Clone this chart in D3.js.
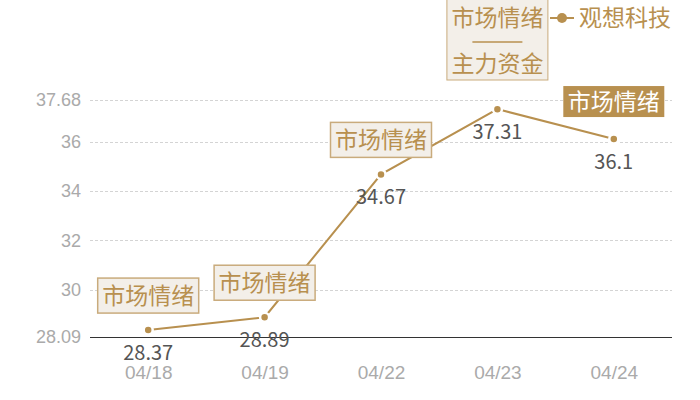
<!DOCTYPE html>
<html>
<head>
<meta charset="utf-8">
<script src="https://cdn.jsdelivr.net/npm/d3@7"></script>
<style>
  body { margin: 0; background: #fff; }
  svg { display: block; font-family: "Noto Sans CJK SC", "Noto Sans", sans-serif; }
</style>
</head>
<body>
<svg id="chart" width="700" height="400"></svg>
<script>
// data
const dates = ['04/18', '04/19', '04/22', '04/23', '04/24'];
const prices = [28.37, 28.89, 34.67, 37.31, 36.1];
const yTicks = [28.09, 30, 32, 34, 36, 37.68];
const notes = ['市场情绪', '市场情绪', '市场情绪', ['市场情绪', '主力资金'], '市场情绪'];
const seriesName = '观想科技';

const gold = '#b8904f';
const margin = { top: 100, right: 28, bottom: 63, left: 90 };
const width = 700, height = 400;

const svg = d3.select('#chart');

const x = d3.scalePoint()
    .domain(dates)
    .range([margin.left, width - margin.right])
    .padding(0.5);

const y = d3.scaleLinear()
    .domain([yTicks[0], yTicks[yTicks.length - 1]])
    .range([height - margin.bottom, margin.top]);

// grid lines
svg.append('g')
    .selectAll('line')
    .data(yTicks.slice(1))
    .join('line')
    .attr('x1', margin.left)
    .attr('x2', width - margin.right)
    .attr('y1', d => Math.round(y(d)) + 0.5)
    .attr('y2', d => Math.round(y(d)) + 0.5)
    .attr('stroke', '#d4d4d4')
    .attr('stroke-dasharray', '3,2');

// y axis labels
const yAxis = d3.axisLeft(y)
    .tickValues(yTicks)
    .tickSize(0)
    .tickPadding(9)
    .tickFormat(d => d);

svg.append('g')
    .attr('transform', `translate(${margin.left},0)`)
    .call(yAxis)
    .call(g => g.select('.domain').remove())
    .call(g => g.selectAll('text')
        .attr('fill', '#aaa')
        .attr('font-size', 18));

// x axis
const xAxis = d3.axisBottom(x).tickSize(0).tickPadding(28);
svg.append('g')
    .attr('transform', `translate(0,${Math.round(height - margin.bottom) + 0.5})`)
    .call(xAxis)
    .call(g => g.select('.domain')
        .attr('d', `M${margin.left},0H${width - margin.right}`)
        .attr('stroke', '#333'))
    .call(g => g.selectAll('text')
        .attr('fill', '#aaa')
        .attr('font-size', 19));

// the line
const line = d3.line()
    .x((d, i) => x(dates[i]))
    .y(d => y(d));

svg.append('path')
    .datum(prices)
    .attr('d', line)
    .attr('fill', 'none')
    .attr('stroke', gold)
    .attr('stroke-width', 2);

svg.append('g')
    .selectAll('circle')
    .data(prices)
    .join('circle')
    .attr('cx', (d, i) => x(dates[i]))
    .attr('cy', d => y(d))
    .attr('r', 4.5)
    .attr('fill', gold)
    .attr('stroke', '#fff')
    .attr('stroke-width', 2.5);

// value labels under the points
svg.append('g')
    .selectAll('text')
    .data(prices)
    .join('text')
    .attr('x', (d, i) => x(dates[i]))
    .attr('y', d => y(d) + 30)
    .attr('text-anchor', 'middle')
    .attr('fill', '#555')
    .attr('font-size', 20)
    .text(d => d);

// note boxes above the points
notes.forEach((n, i) => {
    const cx = x(dates[i]);
    const py = y(prices[i]);
    const g = svg.append('g');
    if (Array.isArray(n)) {
        // stacked box, runs off the top edge
        g.append('rect')
            .attr('x', cx - 50.5).attr('y', -5)
            .attr('width', 101).attr('height', 85)
            .attr('fill', '#f3efe9').attr('stroke', '#c9ab7c');
        g.append('text')
            .attr('x', cx).attr('y', 26)
            .attr('text-anchor', 'middle').attr('fill', gold)
            .attr('font-size', 23).text(n[0]);
        g.append('line')
            .attr('x1', cx - 25).attr('x2', cx + 25)
            .attr('y1', 42).attr('y2', 42)
            .attr('stroke', gold).attr('stroke-width', 1.5);
        g.append('text')
            .attr('x', cx).attr('y', 72)
            .attr('text-anchor', 'middle').attr('fill', gold)
            .attr('font-size', 23).text(n[1]);
    } else if (i === notes.length - 1) {
        // highlighted last one
        g.append('rect')
            .attr('x', cx - 50.5).attr('y', py - 53)
            .attr('width', 101).attr('height', 31)
            .attr('fill', gold);
        g.append('text')
            .attr('x', cx).attr('y', py - 29)
            .attr('text-anchor', 'middle').attr('fill', '#fff')
            .attr('font-size', 23).text(n);
    } else {
        g.append('rect')
            .attr('x', cx - 50.5).attr('y', py - 52)
            .attr('width', 101).attr('height', 35)
            .attr('fill', '#f3efe9').attr('stroke', '#c9ab7c')
            .attr('stroke-width', 1.5);
        g.append('text')
            .attr('x', cx).attr('y', py - 26)
            .attr('text-anchor', 'middle').attr('fill', gold)
            .attr('font-size', 23).text(n);
    }
});

// legend
const lg = svg.append('g').attr('transform', 'translate(550,18)');
lg.append('line').attr('x1', 0).attr('x2', 24).attr('stroke', gold).attr('stroke-width', 2);
lg.append('circle').attr('cx', 12).attr('r', 5).attr('fill', gold);
lg.append('text')
    .attr('x', 29).attr('y', 8)
    .attr('fill', gold).attr('font-size', 23)
    .text(seriesName);
</script>
</body>
</html>
